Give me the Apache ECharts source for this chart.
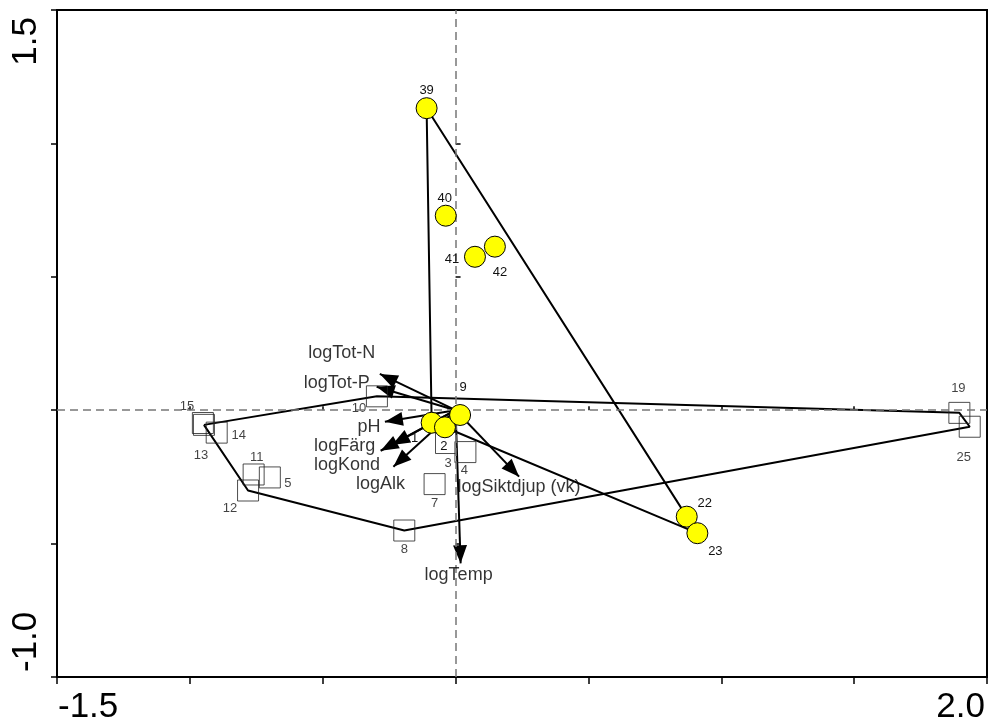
<!DOCTYPE html>
<html><head><meta charset="utf-8">
<script src="https://cdn.jsdelivr.net/npm/echarts@6/dist/echarts.min.js"></script>
<style>html,body{margin:0;padding:0;background:#fff}#c{width:992px;height:726px}</style>
</head><body><div id="c"></div>
<script>
// ---- data ----
const squareIds = ['3','4','5','7','8','10','11','12','13','14','15','19','25'];
const squareX   = [-0.036, 0.037, -0.699, -0.079, -0.193, -0.296, -0.760, -0.781, -0.947, -0.899, -0.951, 1.896, 1.935];
const squareY   = [-0.123, -0.157, -0.252, -0.277, -0.451, 0.052, -0.241, -0.301, -0.055, -0.084, -0.048, -0.010, -0.062];

const circleIds = ['1','2','9','22','23','39','40','41','42'];
const circleX   = [-0.090, -0.040, 0.017, 0.870, 0.910, -0.109, -0.037, 0.073, 0.148];
const circleY   = [-0.047, -0.064, -0.018, -0.399, -0.461, 1.132, 0.729, 0.575, 0.613];

const squareHull = ['13','10','19','25','8','12','13'];
const circleHull = ['39','22','23','2','1','39'];

const envNames = ['logTot-N','logTot-P','pH','logFärg','logKond','logAlk','logSiktdjup (vk)','logTemp'];
const envX     = [-0.285, -0.297, -0.266, -0.282, -0.239, -0.234, 0.239, 0.019];
const envY     = [0.136, 0.088, -0.043, -0.152, -0.130, -0.212, -0.249, -0.574];

const xTickValues = [-1.5, 2.0];
const xTickTexts  = ['-1.5', '2.0'];
const yTickValues = [-1.0, 1.5];
const yTickTexts  = ['-1.0', '1.5'];

// ---- label placement (style, in px) ----
const squareLabelOffset = {
  '3':[2,20],'4':[-1,18],'5':[18,6],'7':[0,19],'8':[0,19],'10':[-18,12],'11':[3,-17],
  '12':[-18,18],'13':[-3,31],'14':[22,3],'15':[-16,-17],'19':[-1,-24],'25':[-6,31]
};
const circleLabelOffset = {
  '1':[-17,16],'2':[-1,19],'9':[3,-28],'22':[18,-13],'23':[18,18],
  '39':[0,-18],'40':[-1,-17],'41':[-23,3],'42':[5,26]
};
const envLabelOffset = {
  'logTot-N':[-38,-21],'logTot-P':[-40,-4],'pH':[-16,5],'logFärg':[-36,-5],
  'logKond':[-45,20],'logAlk':[-13,17],'logSiktdjup (vk)':[0,10],'logTemp':[-2,12]
};

const FONT = 'Liberation Sans, Arial, sans-serif';

function sitePos(id) {
  let i = squareIds.indexOf(id);
  if (i >= 0) return [squareX[i], squareY[i]];
  i = circleIds.indexOf(id);
  return [circleX[i], circleY[i]];
}
function tickFmt(vals, texts) {
  return function (v) {
    const i = vals.findIndex(t => Math.abs(t - v) < 1e-9);
    return i >= 0 ? texts[i] : '';
  };
}
const numLabel = (off) => ({
  show: true, position: 'inside', offset: off, color: '#111', fontSize: 13,
  fontFamily: FONT, textBorderWidth: 0
});

const arrowPath = 'path://M0,18L-7,36L7,36ZM-18,0M18,36';

const chart = echarts.init(document.getElementById('c'));
chart.setOption({
  animation: false,
  backgroundColor: '#fff',
  grid: [
    { left: 57, right: 5, top: 10, bottom: 49, show: true, borderColor: '#000', borderWidth: 2, backgroundColor: 'transparent' },
    { left: 57, right: 5, top: 10, bottom: 49, show: false }
  ],
  xAxis: [
    { type: 'value', gridIndex: 0, min: -1.5, max: 2.0, interval: 0.5,
      axisLine: { show: true, onZero: false, lineStyle: { color: '#000', width: 2 } },
      axisTick: { show: true, length: 7, lineStyle: { color: '#000', width: 1.5 } },
      splitLine: { show: false },
      axisLabel: { show: true, showMinLabel: true, showMaxLabel: true, formatter: tickFmt(xTickValues, xTickTexts),
        fontSize: 35, fontFamily: FONT, color: '#000', margin: 13, padding: [0, 2, 0, 1],
        alignMinLabel: 'left', alignMaxLabel: 'right' } },
    { type: 'value', gridIndex: 1, min: -1.5, max: 2.0, interval: 0.5,
      axisLine: { show: false }, axisLabel: { show: false }, splitLine: { show: false },
      axisTick: { show: true, inside: true, length: 4, lineStyle: { color: '#000', width: 1.5 } } }
  ],
  yAxis: [
    { type: 'value', gridIndex: 0, min: -1.0, max: 1.5, interval: 0.5,
      axisLine: { show: true, onZero: false, lineStyle: { color: '#000', width: 2 } },
      axisTick: { show: true, length: 6, lineStyle: { color: '#000', width: 1.5 } },
      splitLine: { show: false },
      axisLabel: { show: true, showMinLabel: true, showMaxLabel: true, rotate: 90, formatter: tickFmt(yTickValues, yTickTexts),
        fontSize: 35, fontFamily: FONT, color: '#000', margin: 13, padding: [0, 7, 0, 5],
        alignMinLabel: 'left', alignMaxLabel: 'right' } },
    { type: 'value', gridIndex: 1, min: -1.0, max: 1.5, interval: 0.5,
      axisLine: { show: false }, axisLabel: { show: false }, splitLine: { show: false },
      axisTick: { show: true, inside: true, length: 5, lineStyle: { color: '#000', width: 1.5 } } }
  ],
  series: [
    { type: 'line', name: 'hullSquares', data: squareHull.map(sitePos), symbol: 'none', z: 2,
      lineStyle: { color: '#000', width: 2 }, silent: true,
      markLine: { silent: true, symbol: 'none', label: { show: false },
        lineStyle: { type: [8, 5], color: '#777', width: 1.5 },
        data: [{ xAxis: 0 }, { yAxis: 0 }] } },
    { type: 'line', name: 'hullCircles', data: circleHull.map(sitePos), symbol: 'none', z: 2,
      lineStyle: { color: '#000', width: 2 }, silent: true },
    { type: 'lines', coordinateSystem: 'cartesian2d', z: 3, silent: true,
      symbol: ['none', arrowPath], symbolSize: 36,
      lineStyle: { color: '#000', width: 2, opacity: 1, curveness: 0 },
      itemStyle: { color: '#000' },
      data: envNames.map((n, i) => ({ coords: [[0, 0], [envX[i], envY[i]]] })) },
    { type: 'scatter', z: 6, symbolSize: 1, itemStyle: { color: 'rgba(0,0,0,0)' }, silent: true,
      data: envNames.map((n, i) => ({ name: n, value: [envX[i], envY[i]],
        label: { show: true, position: 'inside', offset: envLabelOffset[n], formatter: n,
          color: '#000', fontSize: 18, fontFamily: FONT, textBorderWidth: 0 } })) },
    { type: 'scatter', z: 4, symbol: 'rect', symbolSize: 21, silent: true,
      itemStyle: { color: 'rgba(0,0,0,0)', borderColor: '#222', borderWidth: 1 },
      data: squareIds.map((id, i) => ({ name: id, value: [squareX[i], squareY[i]],
        label: Object.assign(numLabel(squareLabelOffset[id]), { formatter: id }) })) },
    { type: 'scatter', z: 5, symbol: 'circle', symbolSize: 21, silent: true,
      itemStyle: { color: '#ffff00', borderColor: '#000', borderWidth: 1, opacity: 1 },
      data: circleIds.map((id, i) => ({ name: id, value: [circleX[i], circleY[i]],
        label: Object.assign(numLabel(circleLabelOffset[id]), { formatter: id }) })) }
  ]
});
</script></body></html>
